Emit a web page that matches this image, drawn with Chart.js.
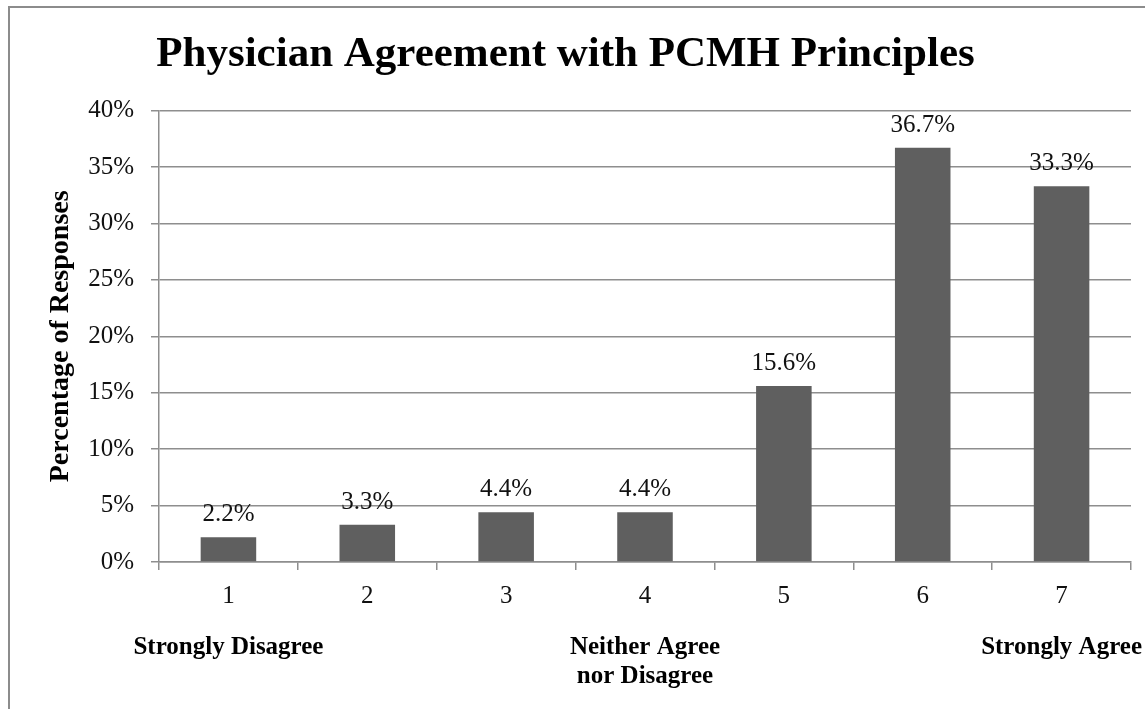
<!DOCTYPE html>
<html>
<head>
<meta charset="utf-8">
<script src="https://cdn.jsdelivr.net/npm/chart.js@4.4.1/dist/chart.umd.min.js"></script>
<style>
    html, body { margin: 0; padding: 0; background: #fff; }
    #wrap { position: relative; width: 1145px; height: 709px; overflow: hidden; }
    #frame {
        position: absolute; left: 8px; top: 6px; width: 1300px; height: 900px;
        border-left: 2px solid #8c8c8c; border-top: 2px solid #8c8c8c;
    }
    #chart { position: absolute; left: 0; top: 0; }
</style>
</head>
<body>
<div id="wrap">
    <div id="frame"></div>
    <canvas id="chart" width="1145" height="709"></canvas>
</div>
<script>
// chart data
const categories = ['1', '2', '3', '4', '5', '6', '7'];
const responsePct = [2.2, 3.3, 4.4, 4.4, 15.6, 36.7, 33.3];
const anchorLabels = [['Strongly Disagree'], [''], [''], ['Neither Agree', 'nor Disagree'], [''], [''], ['Strongly Agree']];
const chartTitle = 'Physician Agreement with PCMH Principles';
const yAxisTitle = 'Percentage of Responses';

const SERIF = "'Liberation Serif', 'Times New Roman', serif";
const GRID = '#8e8e8e';

// value labels above bars
const barValues = {
    id: 'barValues',
    afterDatasetsDraw(chart) {
        const ctx = chart.ctx;
        const meta = chart.getDatasetMeta(0);
        ctx.save();
        ctx.font = `25px ${SERIF}`;
        ctx.fillStyle = '#111';
        ctx.textAlign = 'center';
        ctx.textBaseline = 'alphabetic';
        meta.data.forEach((bar, i) => {
            ctx.fillText(responsePct[i].toFixed(1) + '%', bar.x, bar.y - 16);
        });
        ctx.restore();
    }
};

new Chart(document.getElementById('chart'), {
    type: 'bar',
    data: {
        labels: categories,
        datasets: [{
            data: responsePct,
            backgroundColor: '#5f5f5f',
            borderWidth: 0,
            barPercentage: 0.4,
            categoryPercentage: 1.0
        }]
    },
    options: {
        responsive: false,
        animation: false,
        layout: { padding: { left: 0, right: 14, top: 0, bottom: 0 } },
        plugins: {
            legend: { display: false },
            tooltip: { enabled: false },
            title: {
                display: true,
                text: chartTitle,
                color: '#000',
                font: { family: SERIF, size: 43, weight: 'bold' },
                padding: { top: 29, bottom: 30 }
            }
        },
        scales: {
            y: {
                min: 0, max: 40,
                ticks: {
                    stepSize: 5,
                    color: '#111',
                    padding: 17,
                    font: { family: SERIF, size: 25 },
                    callback: v => v + '%'
                },
                grid: { color: GRID, lineWidth: 1.5, tickLength: 8 },
                border: { color: GRID, width: 1.5 },
                title: {
                    display: true,
                    text: yAxisTitle,
                    color: '#000',
                    font: { family: SERIF, size: 28, weight: 'bold' },
                    padding: { top: 44, bottom: 0 }
                },
                afterFit(scale) { scale.width = 159; }
            },
            x: {
                ticks: {
                    color: '#111',
                    padding: 11,
                    font: { family: SERIF, size: 25 }
                },
                grid: { drawOnChartArea: false, color: GRID, lineWidth: 1.5, tickLength: 8 },
                border: { color: GRID, width: 1.5 },
                afterFit(scale) {
                    scale.height = 50;
                    scale.paddingLeft = 0;
                    scale.paddingRight = 0;
                }
            },
            x2: {
                type: 'category',
                position: 'bottom',
                labels: anchorLabels,
                ticks: {
                    color: '#000',
                    padding: 13,
                    autoSkip: false,
                    maxRotation: 0,
                    font: { family: SERIF, size: 25, weight: 'bold', lineHeight: 1.16 }
                },
                grid: { display: false },
                border: { display: false },
                afterFit(scale) {
                    scale.height = 97;
                    scale.paddingLeft = 0;
                    scale.paddingRight = 0;
                }
            }
        }
    },
    plugins: [barValues]
});
</script>
</body>
</html>
